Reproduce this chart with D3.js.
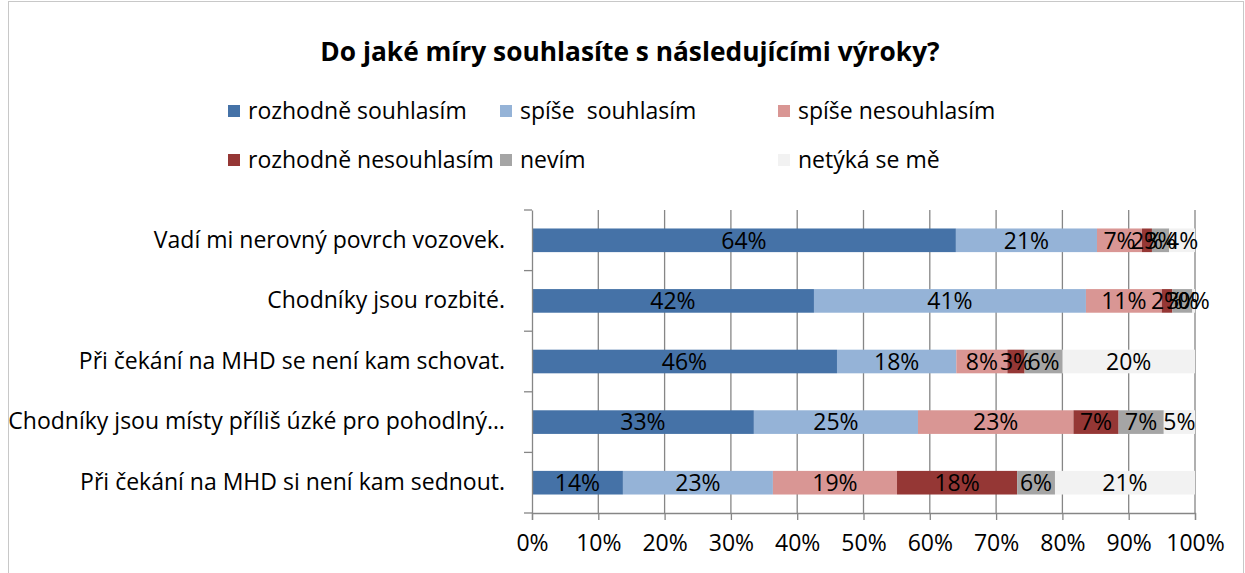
<!DOCTYPE html>
<html><head><meta charset="utf-8">
<script src="https://cdn.jsdelivr.net/npm/d3@7"></script>
<style>body{margin:0;background:#fff}svg{display:block}text{font-family:"Open Sans","Liberation Sans",Arial,sans-serif}</style>
</head><body>
<script>
const title = "Do jaké míry souhlasíte s následujícími výroky?";
const categories = [
  "Vadí mi nerovný povrch vozovek.",
  "Chodníky jsou rozbité.",
  "Při čekání na MHD se není kam schovat.",
  "Chodníky jsou místy příliš úzké pro pohodlný…",
  "Při čekání na MHD si není kam sednout."
];
const seriesNames = ["rozhodně souhlasím","spíše  souhlasím","spíše nesouhlasím","rozhodně nesouhlasím","nevím","netýká se mě"];
const seriesColors = ["#4572A7","#95B3D7","#D99694","#953735","#A5A5A5","#F2F2F2"];
const rozhodneSouhlasim   = [64.0, 42.4, 46.0, 33.4, 13.7];
const spiseSouhlasim      = [21.3, 40.9, 18.0, 24.7, 22.6];
const spiseNesouhlasim    = [6.8, 11.4, 7.7, 23.4, 18.7];
const rozhodneNesouhlasim = [1.5, 1.6, 2.6, 6.8, 18.1];
const nevim               = [2.6, 3.0, 5.7, 6.8, 5.7];
const netykaSeMe          = [3.9, 0.4, 20.0, 4.7, 21.1];
const xTicks = [0,10,20,30,40,50,60,70,80,90,100];

const series = [rozhodneSouhlasim, spiseSouhlasim, spiseNesouhlasim, rozhodneNesouhlasim, nevim, netykaSeMe];
const W = 1245, H = 573;
const FS = 23;
const svg = d3.select("body").append("svg").attr("width", W).attr("height", H);
svg.append("rect").attr("x",8.5).attr("y",1.5).attr("width",W-10).attr("height",H+5)
  .attr("fill","#fff").attr("stroke","#c8c8c8");

const x = d3.scaleLinear().domain([0,100]).range([532,1195]);
const y = d3.scaleBand().domain(categories).range([210,513]).paddingInner(0.61).paddingOuter(0.305);

svg.append("text").attr("x",630).attr("y",61).attr("text-anchor","middle")
  .attr("font-size",26.3).attr("font-weight","bold").attr("fill","#000").text(title);

// legend
const legPos = [[228,111],[500,111],[778,111],[228,160],[500,160],[778,160]];
seriesNames.forEach((n,i)=>{
  const g = svg.append("g").attr("transform",`translate(${legPos[i][0]},${legPos[i][1]})`);
  g.append("rect").attr("x",0).attr("y",-6).attr("width",12).attr("height",12).attr("fill",seriesColors[i]);
  g.append("text").attr("x",20).attr("y",0).attr("dy","0.35em").attr("font-size",FS).attr("fill","#000")
   .attr("xml:space","preserve").style("white-space","pre").text(n);
});

// gridlines
svg.append("g").selectAll("line").data(xTicks.slice(1)).join("line")
  .attr("x1",d=>x(d)).attr("x2",d=>x(d)).attr("y1",210).attr("y2",513)
  .attr("stroke","#868686").attr("stroke-width",1.3);

// stacks
const rows = categories.map((c,i)=>{
  let acc = 0; const tot = d3.sum(series, s=>s[i]);
  return series.map((s,j)=>{ const v = s[i]/tot*100; const seg={cat:c, j, v:s[i], x0:acc, x1:acc+v}; acc+=v; return seg; });
}).flat();
svg.append("g").selectAll("rect").data(rows).join("rect")
  .attr("x",d=>x(d.x0)).attr("width",d=>x(d.x1)-x(d.x0))
  .attr("y",d=>y(d.cat)).attr("height",y.bandwidth())
  .attr("fill",d=>seriesColors[d.j]);
svg.append("g").selectAll("text").data(rows).join("text")
  .attr("x",d=>(x(d.x0)+x(d.x1))/2).attr("y",d=>y(d.cat)+y.bandwidth()/2).attr("dy","0.36em")
  .attr("text-anchor","middle").attr("font-size",FS).attr("fill","#000")
  .text(d=>Math.round(d.v)+"%");

// axes
const xAxis = svg.append("g").attr("transform","translate(0,513)")
  .call(d3.axisBottom(x).tickValues(xTicks).tickFormat(d=>d+"%").tickSize(7).tickPadding(15));
const yAxis = svg.append("g").attr("transform","translate(532,0)")
  .call(d3.axisLeft(y).tickSize(0).tickPadding(27));
[xAxis,yAxis].forEach(a=>{a.select(".domain").attr("stroke","#868686").attr("stroke-width",1.3);
  a.selectAll("line").attr("stroke","#868686").attr("stroke-width",1.3);
  a.selectAll("text").attr("font-size",FS).attr("fill","#000").attr("font-family","Open Sans, Liberation Sans, Arial, sans-serif");});
// y tick marks at band boundaries
const bounds = categories.map(c=>y(c)-y.step()*y.paddingInner()/2).concat([513]);
svg.append("g").selectAll("line").data(bounds).join("line")
  .attr("x1",524).attr("x2",532).attr("y1",d=>d).attr("y2",d=>d).attr("stroke","#868686").attr("stroke-width",1.3);
</script>
</body></html>
